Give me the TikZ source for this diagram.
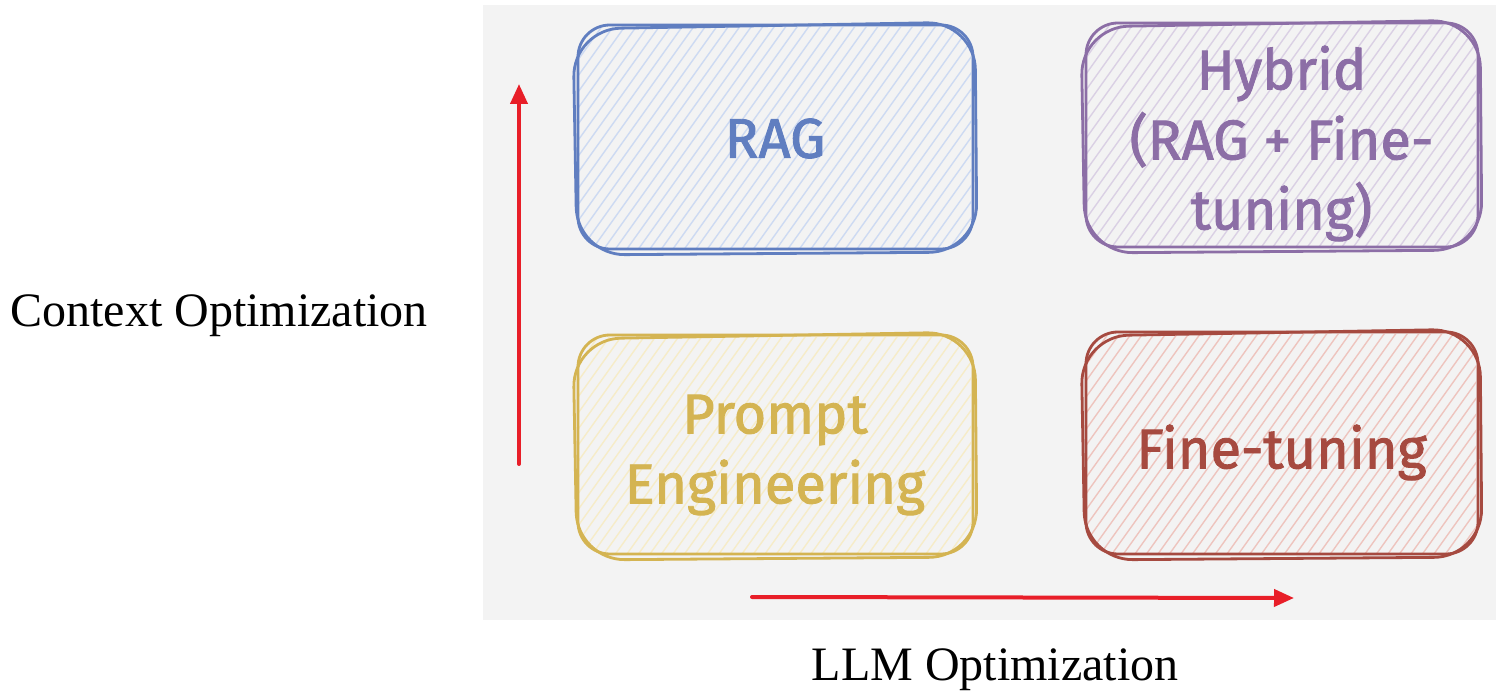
\documentclass[tikz,border=0pt]{standalone}
\usepackage{fontspec}
\setmainfont{Liberation Serif}
\newfontfamily\handfont[FakeBold=1.6]{Fira Sans}
\usetikzlibrary{arrows.meta}

\definecolor{panelgray}{RGB}{243,243,243}
\definecolor{axisred}{RGB}{232,30,40}
\definecolor{ragblue}{RGB}{96,126,192}
\definecolor{raghatch}{RGB}{205,218,242}
\definecolor{hybpurple}{RGB}{140,110,166}
\definecolor{hybhatch}{RGB}{218,208,228}
\definecolor{promptgold}{RGB}{212,180,82}
\definecolor{prompthatch}{RGB}{246,236,200}
\definecolor{ftred}{RGB}{166,74,64}
\definecolor{fthatch}{RGB}{238,196,190}

\tikzset{
  sketchline/.style={line width=1.4pt, line join=round, line cap=round},
  hatchline/.style={line width=0.7pt},
  handtext/.style={font=\handfont\fontsize{28}{35}\selectfont, align=center, inner sep=0pt},
  axislabel/.style={font=\fontsize{24}{28}\selectfont, inner sep=0pt},
  axisarrow/.style={draw=axisred, line width=2pt, line cap=round,
    -{Triangle[length=10pt,width=8.5pt]}},
}

% hand-drawn box: name, x1, y1, x2, y2, stroke colour, hatch colour, text offset, text
\newcommand\sketchbox[9]{%
  \begin{scope}
    \clip[rounded corners=12] (#2+3,#3+3) rectangle (#4-3,#5-3);
    \foreach \k in {0,...,68}
      \draw[hatchline, #7] (#2-330+\k*11.5,#5) -- ++(330,-462);
  \end{scope}
  \draw[sketchline, #6, rounded corners=16] (#2+2,#3+1) rectangle (#4-1,#5-2);
  \draw[sketchline, #6, rounded corners=24]
    (#2-3,#3+5) -- (#4+1,#3-2) -- (#4+3,#5+1) -- (#2+1,#5+4) -- cycle;
  \node[handtext, text=#6] (#1) at ({(#2+#4)/2},{(#3+#5)/2+#8}) {#9};
}

\begin{document}
\begin{tikzpicture}[x=0.5pt,y=-0.5pt]
  \useasboundingbox (0,0) rectangle (1496,695);
  \fill[panelgray] (483,5) rectangle (1496,620);

  \sketchbox{rag}{576}{24}{974}{251}{ragblue}{raghatch}{1}{RAG}
  \sketchbox{hybrid}{1084}{22}{1479}{249}{hybpurple}{hybhatch}{8}{Hybrid\\(RAG + Fine-\\tuning)}
  \sketchbox{prompt}{576}{334}{974}{556}{promptgold}{prompthatch}{10}{Prompt\\Engineering}
  \sketchbox{finetune}{1084}{331}{1479}{556}{ftred}{fthatch}{9}{Fine-tuning}

  % axes
  \coordinate (ctxstart) at (519,464);
  \coordinate (ctxend) at (519,84);
  \draw[axisarrow] (ctxstart) -- (ctxend);
  \coordinate (llmstart) at (752,597);
  \coordinate (llmend) at (1294,598);
  \draw[axisarrow] (llmstart) -- (llmend);

  \node[axislabel] (ctxlabel) at (219,316) {Context Optimization};
  \node[axislabel] (llmlabel) at (995,670) {LLM Optimization};
\end{tikzpicture}
\end{document}
